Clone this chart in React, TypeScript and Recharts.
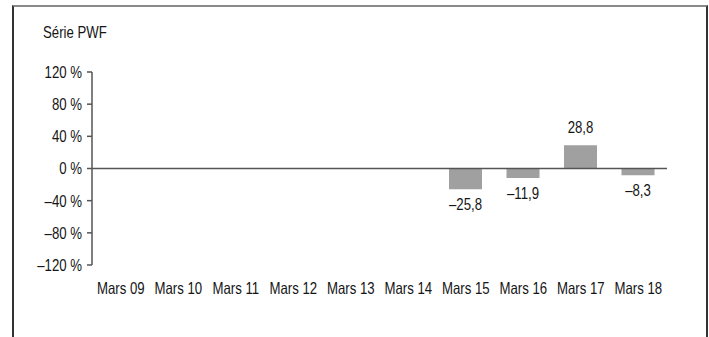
import React from "react";
import { BarChart, Bar, XAxis, YAxis, ReferenceLine, LabelList } from "recharts";

const categories = ["Mars 09", "Mars 10", "Mars 11", "Mars 12", "Mars 13", "Mars 14", "Mars 15", "Mars 16", "Mars 17", "Mars 18"];
const values: (number | null)[] = [null, null, null, null, null, null, -25.8, -11.9, 28.8, -8.3];
const yTicks = [-120, -80, -40, 0, 40, 80, 120];
const title = "Série PWF";

const data = categories.map((c, i) => ({ name: c, v: values[i] }));

const FONT = "'Liberation Sans', Arial, sans-serif";
const FS = 16.5;
const SX = 0.8;
const TEXT = "#151515";
const AXIS = "#555";

const fmtNum = (v: number) => (v < 0 ? "–" : "") + Math.abs(v).toFixed(1).replace(".", ",");
const fmtPct = (v: number) => (v < 0 ? "–" : "") + Math.abs(v) + " %";

const CondText = ({ x, y, anchor, dy, children }: any) => (
  <g transform={`translate(${x},${y}) scale(${SX},1)`}>
    <text x={0} y={0} dy={dy} textAnchor={anchor} fill={TEXT} fontSize={FS} fontFamily={FONT}>
      {children}
    </text>
  </g>
);

const XTick = (props: any) => {
  const { x, y, payload } = props;
  return (
    <CondText x={x} y={y} anchor="middle" dy="0.71em">
      {payload.value}
    </CondText>
  );
};

const YTick = (props: any) => {
  const { x, y, payload } = props;
  return (
    <CondText x={x} y={y} anchor="end" dy="0.355em">
      {fmtPct(payload.value)}
    </CondText>
  );
};

const BarLabel = (props: any) => {
  const { x, y, width, height, value } = props;
  if (value == null) return null;
  const top = Math.min(y, y + height);
  const bottom = Math.max(y, y + height);
  const cx = x + width / 2;
  if (value >= 0) {
    return (
      <CondText x={cx} y={top - 12} anchor="middle">
        {fmtNum(value)}
      </CondText>
    );
  }
  return (
    <CondText x={cx} y={bottom + 9} anchor="middle" dy="0.73em">
      {fmtNum(value)}
    </CondText>
  );
};

export default function App() {
  return (
    <div style={{ position: "absolute", left: 0, top: 0, width: 709, height: 337, background: "#fff", overflow: "hidden" }}>
      <div
        style={{
          position: "absolute",
          left: 12,
          top: 5,
          width: 692,
          height: 400,
          borderTop: "2px solid #8a8a8a",
          borderLeft: "2px solid #333",
          borderRight: "2px solid #333",
        }}
      />
      <div
        style={{
          position: "absolute",
          left: 43,
          top: 23,
          fontFamily: FONT,
          fontSize: FS,
          color: TEXT,
          lineHeight: "18px",
          whiteSpace: "nowrap",
          transform: `scaleX(${SX})`,
          transformOrigin: "0 0",
        }}
      >
        {title}
      </div>
      <div style={{ position: "absolute", left: 0, top: 0 }}>
        <BarChart width={709} height={337} data={data} margin={{ top: 72, right: 42, bottom: 42, left: 0 }}>
          <XAxis
            dataKey="name"
            axisLine={false}
            tickLine={false}
            tickSize={0}
            tickMargin={17}
            height={30}
            interval={0}
            tick={<XTick />}
          />
          <YAxis
            domain={[-120, 120]}
            ticks={yTicks}
            width={92}
            tickFormatter={fmtPct}
            axisLine={{ stroke: AXIS, strokeWidth: 1.5 }}
            tickLine={{ stroke: AXIS, strokeWidth: 1.5 }}
            tickSize={5}
            tickMargin={5}
            tick={<YTick />}
          />
          <ReferenceLine y={0} stroke={AXIS} strokeWidth={1.5} />
          <Bar dataKey="v" fill="#a0a0a0" barSize={33} isAnimationActive={false}>
            <LabelList dataKey="v" content={BarLabel} />
          </Bar>
        </BarChart>
      </div>
    </div>
  );
}
